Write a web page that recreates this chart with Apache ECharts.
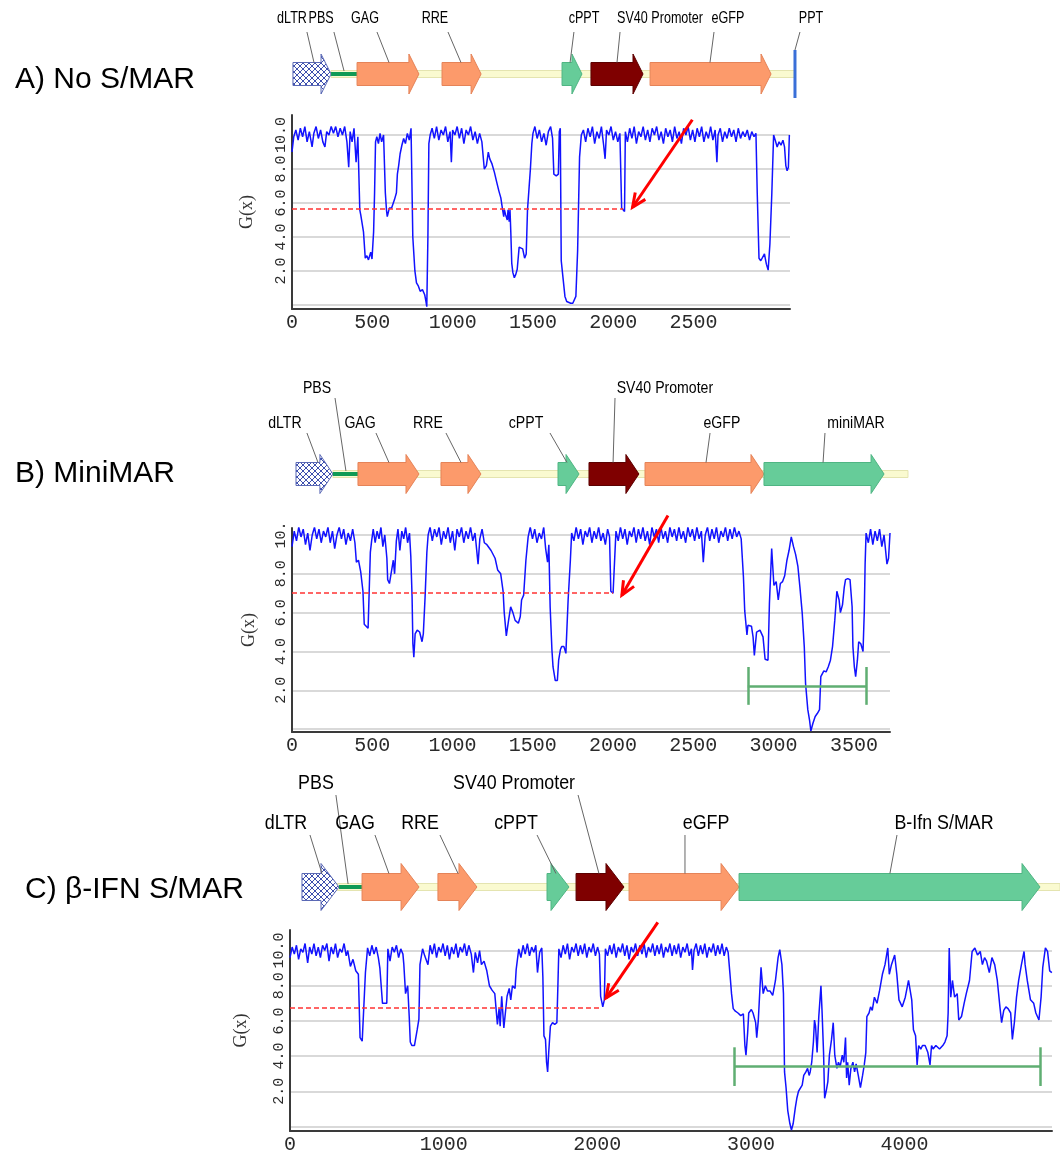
<!DOCTYPE html>
<html>
<head>
<meta charset="utf-8">
<title>G(x) profiles</title>
<script src="https://cdn.jsdelivr.net/npm/echarts@6.0.0/dist/echarts.min.js"></script>
<style>
  html, body { margin: 0; padding: 0; background: #fff; }
  #chart { width: 1060px; height: 1155px; }
</style>
</head>
<body>
<div id="chart"></div>
<script>
// ---- data ----
const xMaxA = 3100, xMaxB = 3725, xMaxC = 4960;
const xLabelsA = [0, 500, 1000, 1500, 2000, 2500];
const xLabelsB = [0, 500, 1000, 1500, 2000, 2500, 3000, 3500];
const xLabelsC = [0, 1000, 2000, 3000, 4000];
const gridValues = [0, 2, 4, 6, 8, 10];
const yLabelValues = [2, 4, 6, 8, 10];

const curveA = [
  [0,9.0],[11,9.9],[24,10.3],[38,9.7],[52,10.4],[66,9.9],[80,10.5],[94,9.6],[108,10.2],[125,9.3],[136,10.1],[150,10.5],[164,9.8],[178,10.3],[192,9.6],[205,9.3],[216,10.2],[230,10.0],[244,10.5],[258,10.1],[272,10.5],[286,9.9],[300,10.4],[314,10.0],[328,10.5],[342,9.6],[353,8.1],[362,10.2],[374,9.6],[386,10.4],[399,8.4],[410,9.9],
  [422,5.6],[428,5.3],[433,5.0],[445,4.3],[456,2.75],[466,2.9],[476,2.65],[490,3.1],[498,2.7],[508,4.3],[514,6.6],[520,9.6],[528,9.9],[538,9.5],[548,10.1],[558,9.6],[570,10.0],
  [581,6.6],[588,5.6],[593,5.2],[600,5.3],[606,5.7],[620,5.7],[638,6.2],[650,6.6],[656,7.7],[664,8.2],[673,8.9],[684,9.4],[695,9.8],[706,9.5],[718,10.1],[730,9.7],[741,10.4],
  [752,4.0],[765,2.0],[775,1.3],[787,1.1],[798,0.8],[812,0.9],[826,0.6],[834,0.2],[839,-0.1],[846,4.0],[852,9.5],[860,10.0],
  [872,10.4],[886,9.8],[900,10.5],[914,9.7],[928,10.3],[942,10.0],[956,10.5],[970,9.6],[984,10.2],[992,8.4],[1000,10.3],[1014,10.0],[1028,10.5],[1042,9.8],[1056,10.4],[1070,9.5],[1084,10.3],[1098,10.0],[1112,10.5],[1126,9.7],[1140,10.2],[1154,9.5],[1168,10.1],[1182,9.6],[1197,8.0],[1210,8.2],[1222,9.0],
  [1231,8.6],[1245,8.3],[1260,7.8],[1275,7.2],[1288,6.7],[1300,6.3],[1311,5.6],[1318,5.2],[1322,5.6],[1330,5.3],[1340,5.0],[1345,5.6],[1352,4.9],[1357,5.6],[1362,4.3],[1368,2.45],[1375,1.9],[1384,1.6],[1393,1.8],[1402,2.1],[1414,3.4],[1425,3.5],[1436,3.3],[1448,2.75],[1458,3.0],[1466,5.6],[1475,6.8],[1484,8.0],[1493,9.5],[1500,10.1],
  [1512,10.5],[1526,9.8],[1540,10.3],[1554,9.6],[1568,10.1],[1582,9.4],[1596,10.2],[1610,10.5],[1622,9.8],[1630,7.7],[1645,7.6],[1658,7.7],[1664,10.2],[1670,10.4],
  [1676,2.6],[1688,1.5],[1699,0.5],[1710,0.2],[1721,0.1],[1735,0.1],[1748,0.1],[1756,0.1],[1767,0.5],[1778,3.2],[1790,8.7],[1801,10.0],
  [1814,10.3],[1828,9.6],[1842,10.4],[1856,9.9],[1870,10.5],[1884,9.5],[1898,10.2],[1912,9.8],[1926,10.5],[1940,9.4],[1949,8.6],[1958,10.3],[1972,10.0],[1986,10.5],[2000,9.7],[2014,10.2],[2028,9.6],[2041,10.1],
  [2052,5.7],[2062,5.6],[2070,5.5],[2075,10.2],
  [2088,9.6],[2102,10.4],[2116,9.8],[2130,10.5],[2144,9.5],[2158,10.2],[2172,9.9],[2186,10.5],[2200,9.7],[2214,10.3],[2228,9.6],[2242,10.4],[2256,10.0],[2270,10.5],[2284,9.7],[2298,10.2],[2312,9.5],[2326,10.4],[2340,9.9],[2354,10.3],[2368,9.6],[2382,10.5],[2396,9.8],[2410,10.2],[2424,9.5],[2438,10.4],[2452,10.0],[2466,10.5],[2480,9.7],[2494,10.3],[2508,9.6],[2522,10.4],[2536,9.9],[2550,10.5],[2564,9.6],[2578,10.2],[2592,9.8],[2606,10.5],[2620,9.7],[2634,10.3],[2645,8.4],[2652,10.0],[2666,10.4],[2680,9.6],[2694,10.2],[2708,9.8],[2722,10.4],[2736,9.9],[2750,10.3],[2764,9.6],[2778,10.4],[2792,9.8],[2806,10.2],[2820,9.9],[2834,10.3],[2848,9.7],[2862,10.2],[2876,9.9],[2888,10.1],
  [2896,6.6],[2907,2.75],[2918,2.6],[2930,2.55],[2941,3.0],[2947,2.7],[2953,2.4],[2964,2.05],[2975,3.6],[2987,6.6],[2998,10.0],
  [3008,9.7],[3020,9.3],[3032,9.6],[3044,9.4],[3056,9.7],[3066,9.3],[3074,8.2],[3082,7.9],[3090,8.1],[3096,10.0]
];

const curveB = [
  [0,9.4],[14,10.2],[28,9.7],[42,10.4],[56,9.9],[70,10.3],[84,9.5],[98,10.1],[112,9.2],[126,10.0],[140,10.4],[154,9.8],[168,10.3],[182,9.6],[196,10.2],[210,9.9],[224,10.4],[238,9.6],[252,10.2],[266,9.3],[280,10.0],[294,10.4],[308,9.8],[322,10.3],[336,9.5],[350,10.1],[364,9.7],[378,10.3],[392,9.6],
  [401,8.6],[414,8.7],[428,8.1],[442,7.1],[450,5.4],[462,5.3],[474,5.2],[482,5.3],[488,9.1],[496,9.7],
  [506,10.3],[518,9.6],[530,10.2],[542,9.8],[554,10.4],[566,9.4],[578,10.0],
  [591,8.8],[596,7.7],[607,7.5],[618,7.4],[631,8.7],[639,8.0],[650,9.7],
  [660,10.3],[672,9.2],[684,10.2],[696,9.8],[708,10.4],[720,9.6],[732,10.1],
  [740,8.9],[748,6.8],[753,4.4],[759,3.7],[767,4.9],[780,5.1],[795,5.0],[802,4.9],[810,4.5],[818,4.9],[829,6.8],[840,9.1],[848,10.0],
  [860,10.4],[874,9.7],[888,10.3],[902,9.9],[916,10.4],[930,9.5],[944,10.2],[958,9.8],[972,10.4],[986,9.6],[1000,10.2],[1014,9.2],[1028,10.3],[1042,9.9],[1056,10.4],[1070,9.6],[1084,10.2],[1098,9.8],[1112,10.4],[1126,9.7],[1140,10.1],[1159,8.5],[1170,9.8],[1184,10.3],[1198,9.6],
  [1214,9.5],[1240,9.2],[1265,8.8],[1281,8.2],[1300,8.0],[1315,7.1],[1322,6.0],[1335,4.8],[1349,5.6],[1362,6.3],[1376,6.0],[1390,5.6],[1410,5.45],[1422,5.8],[1430,6.65],[1443,6.9],[1457,8.7],[1471,9.9],
  [1484,10.4],[1498,9.8],[1512,10.3],[1526,9.6],[1540,10.1],[1554,9.8],[1568,10.4],[1580,9.3],[1592,8.6],[1600,9.5],
  [1608,6.3],[1619,4.1],[1626,3.2],[1640,2.5],[1653,2.5],[1661,3.55],[1672,4.1],[1680,4.25],[1694,4.25],[1706,3.9],[1720,6.65],[1734,8.7],[1742,10.1],
  [1756,9.7],[1770,10.4],[1784,9.8],[1798,10.3],[1812,9.5],[1826,10.2],[1840,9.9],[1854,10.4],[1868,9.6],[1882,10.2],[1896,9.8],[1910,10.4],[1924,9.7],[1938,10.1],[1952,9.5],[1966,10.3],[1978,9.9],
  [1986,7.1],[2000,7.0],[2010,7.1],[2018,10.2],
  [2032,9.7],[2046,10.4],[2060,9.8],[2074,10.3],[2088,9.5],[2102,10.2],[2116,9.9],[2130,10.4],[2144,9.6],[2158,10.3],[2172,9.8],[2186,10.4],[2200,9.7],[2214,10.2],[2228,9.5],[2242,10.4],[2256,9.9],[2270,10.3],[2284,9.6],[2298,10.4],[2312,9.8],[2326,10.2],[2340,9.6],[2354,10.4],[2368,9.9],[2382,10.3],[2396,9.7],[2410,10.4],[2424,9.8],[2438,10.2],[2452,9.6],[2466,10.4],[2480,9.9],[2494,10.3],[2508,9.7],[2522,10.4],[2536,9.8],[2550,10.2],[2562,8.6],[2574,10.0],[2588,10.4],[2602,9.7],[2616,10.3],[2630,9.8],[2644,10.4],[2658,9.6],[2672,10.2],[2686,9.9],[2700,10.4],[2714,9.7],[2728,10.3],[2742,9.8],[2756,10.4],[2770,9.9],[2784,10.2],[2798,9.8],
  [2812,7.85],[2820,6.1],[2834,4.85],[2840,5.35],[2862,5.3],[2872,4.75],[2880,3.8],[2894,5.0],[2915,5.1],[2934,4.75],[2947,3.6],[2965,3.55],[2974,6.5],[2988,9.3],[2996,8.2],[3002,7.4],[3016,7.6],[3029,6.65],[3042,7.5],[3056,7.6],[3069,7.9],[3083,8.7],[3096,9.2],[3110,9.9],[3124,9.4],[3137,9.0],[3151,8.4],[3164,7.3],[3178,6.0],[3191,4.25],[3199,2.35],[3213,1.0],[3224,0.45],[3232,-0.1],[3245,0.3],[3259,0.65],[3272,0.8],[3286,1.0],[3294,2.7],[3313,3.0],[3327,2.95],[3340,3.2],[3354,3.55],[3367,4.25],[3381,5.6],[3394,7.1],[3408,6.65],[3416,6.0],[3429,6.4],[3440,7.3],[3448,7.7],[3462,7.75],[3476,7.7],[3489,6.3],[3494,4.25],[3503,3.2],[3511,2.7],[3522,3.55],[3530,4.5],[3543,4.4],[3557,4.0],[3565,6.1],[3570,8.5],[3576,10.1],
  [3590,9.6],[3604,10.3],[3618,9.5],[3632,10.2],[3646,9.7],[3660,10.3],[3674,9.4],[3688,10.0],[3706,8.5],[3716,8.8],[3725,10.1]
];

const curveC = [
  [0,9.6],[14,10.2],[28,9.8],[42,10.3],[56,9.5],[70,10.1],[84,9.9],[98,10.4],[115,9.3],[128,10.2],[142,9.8],[156,10.4],[170,9.7],[184,10.2],[198,9.6],[212,10.3],[226,10.0],[240,10.4],[254,9.4],[268,10.2],[282,9.8],[296,10.4],[310,9.6],[324,10.1],[338,9.9],[352,10.4],[366,9.7],[376,10.0],
  [393,9.1],[410,9.5],[428,8.85],[445,8.65],[456,5.05],[470,4.85],[480,4.8],[491,8.75],[505,10.15],
  [519,9.7],[533,10.3],[547,9.8],[561,10.2],[575,9.6],[585,9.0],[602,7.0],[615,7.0],[630,7.0],[637,10.1],
  [651,9.4],[665,10.2],[679,9.9],[693,10.3],[707,9.6],[721,10.1],[735,9.8],
  [741,9.2],[752,7.55],[766,8.0],[776,6.25],[783,4.8],[793,4.6],[810,4.6],[818,4.7],[828,5.5],[839,6.1],[846,9.2],[863,10.1],
  [877,9.7],[898,9.2],[912,10.3],[926,9.8],[940,10.4],[954,9.6],[968,10.2],[982,9.9],[996,10.4],[1010,9.7],[1024,10.3],[1038,9.5],[1052,10.2],[1066,9.8],[1080,10.4],[1094,9.6],[1108,10.2],[1122,9.9],[1136,10.4],[1150,9.7],[1164,10.3],[1180,9.8],[1194,8.75],
  [1206,9.9],[1221,9.3],[1234,10.0],[1246,9.2],[1263,9.4],[1281,8.85],[1298,8.0],[1315,7.75],[1333,7.55],[1350,5.8],[1361,6.7],[1368,5.7],[1378,7.4],[1392,5.6],[1402,5.5],[1413,7.4],[1427,7.85],[1437,7.2],[1448,8.0],[1465,7.85],[1472,8.9],[1489,10.1],
  [1503,9.6],[1517,10.3],[1531,9.8],[1545,10.4],[1559,9.7],[1573,10.2],[1587,9.9],[1600,10.3],[1611,8.75],[1625,9.9],[1639,10.15],
  [1646,8.5],[1653,5.15],[1663,4.95],[1670,3.65],[1677,3.1],[1684,4.2],[1695,5.7],[1709,5.9],[1723,5.8],[1737,5.9],[1743,7.75],[1750,10.1],
  [1764,9.6],[1778,10.3],[1792,9.8],[1806,10.4],[1820,9.5],[1834,10.2],[1848,9.9],[1862,10.4],[1876,9.7],[1890,10.3],[1904,9.8],[1918,10.4],[1932,9.6],[1946,10.2],[1960,9.9],[1974,10.4],[1988,9.7],[2002,10.2],[2014,9.8],
  [2022,7.4],[2036,6.8],[2046,7.2],[2053,10.1],
  [2067,9.7],[2081,10.3],[2095,9.8],[2109,10.4],[2123,9.6],[2137,10.2],[2151,9.9],[2165,10.4],[2179,9.7],[2193,10.3],[2207,9.5],[2221,10.2],[2235,9.9],[2249,10.4],[2263,9.7],[2277,10.3],[2291,9.8],[2305,10.4],[2319,9.6],[2333,10.2],[2347,9.9],[2361,10.4],[2375,9.7],[2389,10.3],[2403,9.8],[2417,10.4],[2431,9.6],[2445,10.2],[2459,9.9],[2473,10.4],[2487,9.7],[2501,10.3],[2515,9.8],[2529,10.4],[2543,9.6],[2557,10.2],[2571,9.9],[2585,10.4],[2599,9.7],[2613,10.1],[2620,8.9],[2630,10.0],[2644,10.4],[2658,9.7],[2672,10.3],[2686,9.8],[2700,10.4],[2714,9.6],[2728,10.2],[2742,9.9],[2756,10.4],[2770,9.7],[2784,10.3],[2798,9.8],[2812,10.4],[2826,9.7],[2840,10.2],[2852,9.9],
  [2864,8.65],[2874,7.55],[2885,6.7],[2899,6.55],[2916,6.45],[2934,6.3],[2951,6.4],[2961,4.6],[2968,4.05],[2979,5.35],[2986,6.45],[3003,6.65],[3014,6.45],[3031,5.9],[3038,5.05],[3048,6.0],[3066,9.05],[3080,7.55],[3094,8.0],[3108,7.7],[3125,7.7],[3142,7.45],[3160,8.3],[3177,9.6],[3188,10.05],[3202,9.2],[3212,7.55],[3219,3.1],[3229,2.2],[3240,0.9],[3254,0.15],[3264,-0.2],[3275,0.15],[3289,1.05],[3299,1.6],[3310,2.0],[3323,1.9],[3334,2.35],[3344,2.9],[3358,3.1],[3369,3.3],[3379,2.9],[3386,3.1],[3396,3.65],[3407,4.8],[3414,6.05],[3421,5.7],[3431,4.2],[3442,6.25],[3456,8.0],[3463,6.6],[3473,4.2],[3480,1.6],[3490,2.0],[3501,2.55],[3511,4.05],[3525,4.95],[3536,5.9],[3546,4.05],[3560,3.3],[3570,3.65],[3581,3.4],[3595,4.05],[3605,3.65],[3616,5.05],[3623,2.75],[3630,3.65],[3640,2.35],[3651,3.3],[3664,3.65],[3675,3.1],[3685,3.55],[3699,2.9],[3713,2.2],[3727,2.9],[3738,3.5],[3748,4.2],[3755,6.25],[3769,6.45],[3779,6.8],[3790,6.6],[3804,7.35],[3821,7.0],[3838,7.75],[3856,8.65],[3873,9.2],[3891,10.15],[3901,8.65],[3915,9.2],[3936,9.75],[3950,8.65],[3964,7.2],[3985,6.8],[4005,7.35],[4026,8.3],[4047,7.2],[4058,5.5],[4072,5.15],[4082,3.5],[4092,4.6],[4106,4.4],[4117,4.6],[4134,4.6],[4152,4.2],[4166,3.5],[4176,4.6],[4186,4.4],[4204,4.6],[4228,4.4],[4249,4.6],[4263,4.8],[4277,5.15],[4284,6.45],[4291,10.15],[4301,7.35],[4312,8.3],[4326,7.35],[4343,7.55],[4353,6.05],[4371,6.25],[4388,7.0],[4402,7.55],[4423,8.3],[4440,9.95],[4458,10.15],[4475,9.75],[4493,9.95],[4507,9.2],[4521,9.6],[4534,9.4],[4552,8.75],[4569,9.6],[4587,9.2],[4604,8.3],[4621,6.8],[4632,5.9],[4646,6.6],[4660,6.8],[4674,6.7],[4691,6.45],[4702,4.95],[4715,5.9],[4729,7.35],[4743,8.3],[4761,9.2],[4778,9.95],[4785,9.2],[4799,8.3],[4820,7.2],[4841,7.0],[4855,6.45],[4875,6.05],[4889,7.35],[4900,9.05],[4917,10.15],[4931,9.95],[4945,8.85],[4959,8.75]
];

// threshold: [G, end bp]; arrow: [x1, G1, x2, G2]; bracket: [start, end, G, capLow, capHigh]
const thresholdA = [5.65, 2062], thresholdB = [7.0, 2000], thresholdC = [6.76, 2029];
const arrowA = [2492, 10.9, 2120, 5.75], arrowB = [2342, 11.0, 2055, 6.9], arrowC = [2394, 11.6, 2057, 7.3];
const bracketB = [2839, 3579, 2.2, 1.25, 3.2], bracketC = [2892, 4882, 3.4, 2.3, 4.5];

// vector maps: [element, start bp, end bp]
const featA = [['backbone',243,3131],['dLTR',6,243],['PBS',243,405],['GAG',405,790],['RRE',934,1177],['cPPT',1681,1805],['SV40 Promoter',1861,2185],['eGFP',2229,2982],['PPT',3131,3131]];
const featB = [['backbone',255,3837],['dLTR',25,255],['PBS',255,411],['GAG',411,791],['RRE',928,1177],['cPPT',1657,1788],['SV40 Promoter',1850,2161],['eGFP',2199,2940],['miniMAR',2940,3688]];
const featC = [['backbone',300,5012],['dLTR',78,319],['PBS',319,475],['GAG',469,840],['RRE',963,1217],['cPPT',1673,1816],['SV40 Promoter',1862,2174],['eGFP',2207,2923],['B-Ifn S/MAR',2923,4882]];
// map labels: [text, label bp, row, leader top bp, leader end bp]
const labelsA = [['dLTR',0,1,93,137],['PBS',181,1,261,324],['GAG',454,1,529,604],['RRE',890,1,971,1052],['cPPT',1818,1,1755,1731],['SV40 Promoter',2291,1,2042,2023],['eGFP',2714,1,2627,2602],['PPT',3231,1,3162,3131]];
const labelsB = [['dLTR',-44,1,93,162],['PBS',156,0,268,336],['GAG',424,1,523,604],['RRE',847,1,959,1053],['cPPT',1458,1,1607,1713],['SV40 Promoter',2323,0,2012,2000],['eGFP',2678,1,2604,2579],['miniMAR',3513,1,3320,3308]];
const labelsC = [['dLTR',-26,1,130,208],['PBS',169,0,299,378],['GAG',423,1,553,644],['RRE',846,1,976,1094],['cPPT',1471,1,1608,1731],['SV40 Promoter',1458,0,1875,2011],['eGFP',2708,1,2571,2571],['B-Ifn S/MAR',4257,1,3951,3905]];

// ---- styles ----
const hatch = document.createElement('canvas');
hatch.width = 6; hatch.height = 6;
(function () {
  const c = hatch.getContext('2d');
  c.fillStyle = '#ffffff'; c.fillRect(0, 0, 6, 6);
  c.strokeStyle = '#3d4fae'; c.lineWidth = 1;
  c.beginPath(); c.moveTo(0, 0); c.lineTo(6, 6); c.moveTo(6, 0); c.lineTo(0, 6); c.stroke();
})();

const elementStyle = {
  'dLTR': { fill: { image: hatch, repeat: 'repeat' }, stroke: '#5b69b5' },
  'GAG': { fill: '#fc9a6b', stroke: '#e58358' },
  'RRE': { fill: '#fc9a6b', stroke: '#e58358' },
  'eGFP': { fill: '#fc9a6b', stroke: '#e58358' },
  'cPPT': { fill: '#66cc99', stroke: '#4fb583' },
  'miniMAR': { fill: '#66cc99', stroke: '#4fb583' },
  'B-Ifn S/MAR': { fill: '#66cc99', stroke: '#4fb583' },
  'SV40 Promoter': { fill: '#7f0000', stroke: '#5c0000' }
};

const mapStyleA = { bodyH: 23, headH: 40, headLen: 10, pptH: 24, fs: 17, sx: 0.74, rows: [-90, -56], leaderTop: [-76, -42] };
const mapStyleB = { bodyH: 23, headH: 39, headLen: 13, pptH: 24, fs: 17, sx: 0.83, rows: [-86, -51], leaderTop: [-76, -41] };
const mapStyleC = { bodyH: 27, headH: 47, headLen: 18, pptH: 26, fs: 21, sx: 0.85, rows: [-104, -64], leaderTop: [-92, -52] };

function featureRenderer(features, st) {
  return function (params, api) {
    const f = features[params.dataIndex];
    const cs = params.coordSys;
    const cy = cs.y + cs.height / 2;
    const x0 = api.coord([api.value(0), 0])[0];
    const x1 = api.coord([api.value(1), 0])[0];
    if (f[0] === 'backbone') {
      return { type: 'rect', shape: { x: x0, y: cy - 3.5, width: x1 - x0, height: 7 },
        style: { fill: '#fafad0', stroke: '#e4e4b0', lineWidth: 1 } };
    }
    if (f[0] === 'PBS') {
      return { type: 'rect', shape: { x: x0, y: cy - 2, width: x1 - x0, height: 4 }, style: { fill: '#0f9a55' } };
    }
    if (f[0] === 'PPT') {
      return { type: 'line', shape: { x1: x0, y1: cy - st.pptH, x2: x0, y2: cy + st.pptH },
        style: { stroke: '#3a6fd8', lineWidth: 3 } };
    }
    const hb = st.bodyH / 2, hh = st.headH / 2;
    const xh = Math.max(x0, x1 - st.headLen);
    const s = elementStyle[f[0]];
    return {
      type: 'polygon',
      shape: { points: [[x0, cy - hb], [xh, cy - hb], [xh, cy - hh], [x1, cy], [xh, cy + hh], [xh, cy + hb], [x0, cy + hb]] },
      style: { fill: s.fill, stroke: s.stroke, lineWidth: 1 }
    };
  };
}

function labelRenderer(labels, st) {
  return function (params, api) {
    const lb = labels[params.dataIndex];
    const cs = params.coordSys;
    const cy = cs.y + cs.height / 2;
    const lx = api.coord([lb[1], 0])[0];
    const tx = api.coord([lb[3], 0])[0];
    const ex = api.coord([lb[4], 0])[0];
    let endDy = -st.bodyH / 2;
    if (lb[0] === 'PBS') endDy = -3;
    if (lb[0] === 'PPT') endDy = -st.pptH;
    return {
      type: 'group',
      children: [
        { type: 'line', shape: { x1: tx, y1: cy + st.leaderTop[lb[2]], x2: ex, y2: cy + endDy },
          style: { stroke: '#666', lineWidth: 1 } },
        { type: 'text', x: lx, y: cy + st.rows[lb[2]], scaleX: st.sx, scaleY: 1,
          style: { text: lb[0], font: st.fs + 'px "Liberation Sans", Arial, sans-serif', fill: '#000',
            align: 'center', verticalAlign: 'middle' } }
      ]
    };
  };
}

function arrowRenderer(params, api) {
  const p1 = api.coord([api.value(0), api.value(1)]);
  const p2 = api.coord([api.value(2), api.value(3)]);
  const a = Math.atan2(p2[1] - p1[1], p2[0] - p1[0]);
  const L = 15, spread = 0.42;
  const h1 = [p2[0] - L * Math.cos(a - spread), p2[1] - L * Math.sin(a - spread)];
  const h2 = [p2[0] - L * Math.cos(a + spread), p2[1] - L * Math.sin(a + spread)];
  return {
    type: 'group',
    children: [
      { type: 'line', shape: { x1: p1[0], y1: p1[1], x2: p2[0], y2: p2[1] }, style: { stroke: '#ff0000', lineWidth: 3 } },
      { type: 'polyline', shape: { points: [h1, p2, h2] }, style: { stroke: '#ff0000', lineWidth: 3, fill: null } }
    ]
  };
}

// ---- panels ----
const panels = [
  { map: { left: 292, top: 62, width: 498, height: 24 }, grid: { left: 292, top: 115, width: 498, height: 194 },
    xMax: xMaxA, yMin: -0.24, yMax: 11.18, xLabels: xLabelsA, nameGap: 36, curve: curveA,
    feat: featA, labels: labelsA, st: mapStyleA, threshold: thresholdA, arrow: arrowA, bracket: null, cut10: false },
  { map: { left: 292, top: 462, width: 598, height: 24 }, grid: { left: 292, top: 528, width: 598, height: 204 },
    xMax: xMaxB, yMin: -0.15, yMax: 10.36, xLabels: xLabelsB, nameGap: 34, curve: curveB,
    feat: featB, labels: labelsB, st: mapStyleB, threshold: thresholdB, arrow: arrowB, bracket: bracketB, cut10: true },
  { map: { left: 290, top: 875, width: 762, height: 24 }, grid: { left: 290, top: 930, width: 762, height: 206 },
    xMax: xMaxC, yMin: -0.26, yMax: 11.17, xLabels: xLabelsC, nameGap: 40, curve: curveC,
    feat: featC, labels: labelsC, st: mapStyleC, threshold: thresholdC, arrow: arrowC, bracket: bracketC, cut10: false }
];

const grids = [], xAxes = [], yAxes = [], series = [];
panels.forEach(function (p, k) {
  const mi = k * 2, ci = k * 2 + 1;
  grids.push(p.map, p.grid);
  xAxes.push({ gridIndex: mi, type: 'value', min: 0, max: p.xMax, show: false });
  yAxes.push({ gridIndex: mi, type: 'value', min: 0, max: 1, show: false });
  xAxes.push({
    gridIndex: ci, type: 'value', min: 0, max: p.xMax,
    axisLine: { show: true, onZero: false, lineStyle: { color: '#3a3a3a', width: 2 } },
    axisTick: { show: false }, splitLine: { show: false },
    axisLabel: { customValues: p.xLabels, formatter: function (v) { return String(v); },
      fontFamily: '"Liberation Mono", monospace', fontSize: 20, color: '#2a2a2a', margin: 4 }
  });
  yAxes.push({
    gridIndex: ci, type: 'value', min: p.yMin, max: p.yMax,
    name: 'G(x)', nameLocation: 'middle', nameRotate: 90, nameGap: p.nameGap,
    nameTextStyle: { fontFamily: '"Liberation Serif", serif', fontSize: 18, color: '#333' },
    axisLine: { show: true, onZero: false, lineStyle: { color: '#3a3a3a', width: 2 } },
    axisTick: { show: false, customValues: gridValues },
    splitLine: { show: true, lineStyle: { color: '#cccccc', width: 1.5 } },
    axisLabel: {
      customValues: yLabelValues, rotate: 90, margin: 3,
      fontFamily: '"Liberation Mono", monospace', fontSize: 15, color: '#2a2a2a',
      formatter: function (v) { return (p.cut10 && v === 10) ? '10.' : v.toFixed(1); }
    }
  });

  const marks = [[
    { coord: [0, p.threshold[0]], lineStyle: { color: '#ff3333', type: [5, 3], width: 1.5 } },
    { coord: [p.threshold[1], p.threshold[0]] }
  ]];
  if (p.bracket) {
    const b = p.bracket, bs = { color: '#5fae72', type: 'solid', width: 2.5 };
    marks.push([{ coord: [b[0], b[2]], lineStyle: bs }, { coord: [b[1], b[2]] }]);
    marks.push([{ coord: [b[0], b[3]], lineStyle: bs }, { coord: [b[0], b[4]] }]);
    marks.push([{ coord: [b[1], b[3]], lineStyle: bs }, { coord: [b[1], b[4]] }]);
  }

  series.push({
    type: 'line', xAxisIndex: ci, yAxisIndex: ci, data: p.curve,
    showSymbol: false, lineStyle: { color: '#1212ff', width: 1.5 }, itemStyle: { color: '#1212ff' },
    markLine: { silent: true, symbol: ['none', 'none'], label: { show: false }, data: marks }
  });
  series.push({
    type: 'custom', xAxisIndex: ci, yAxisIndex: ci, data: [p.arrow], renderItem: arrowRenderer, silent: true, z: 5
  });
  series.push({
    type: 'custom', xAxisIndex: mi, yAxisIndex: mi, data: p.feat.map(function (f) { return [f[1], f[2]]; }),
    renderItem: featureRenderer(p.feat, p.st), silent: true
  });
  series.push({
    type: 'custom', xAxisIndex: mi, yAxisIndex: mi, data: p.labels.map(function (l) { return [l[1], 0]; }),
    renderItem: labelRenderer(p.labels, p.st), silent: true
  });
});

const titleStyle = { fontFamily: '"Liberation Sans", Arial, sans-serif', fontSize: 30, fontWeight: 'normal', color: '#000' };
const chart = echarts.init(document.getElementById('chart'));
chart.setOption({
  backgroundColor: '#ffffff',
  animation: false,
  title: [
    { text: 'A) No S/MAR', left: 10, top: 60, textStyle: titleStyle },
    { text: 'B) MiniMAR', left: 10, top: 454, textStyle: titleStyle },
    { text: 'C) β-IFN S/MAR', left: 20, top: 870, textStyle: titleStyle }
  ],
  grid: grids,
  xAxis: xAxes,
  yAxis: yAxes,
  series: series
});
</script>
</body>
</html>
